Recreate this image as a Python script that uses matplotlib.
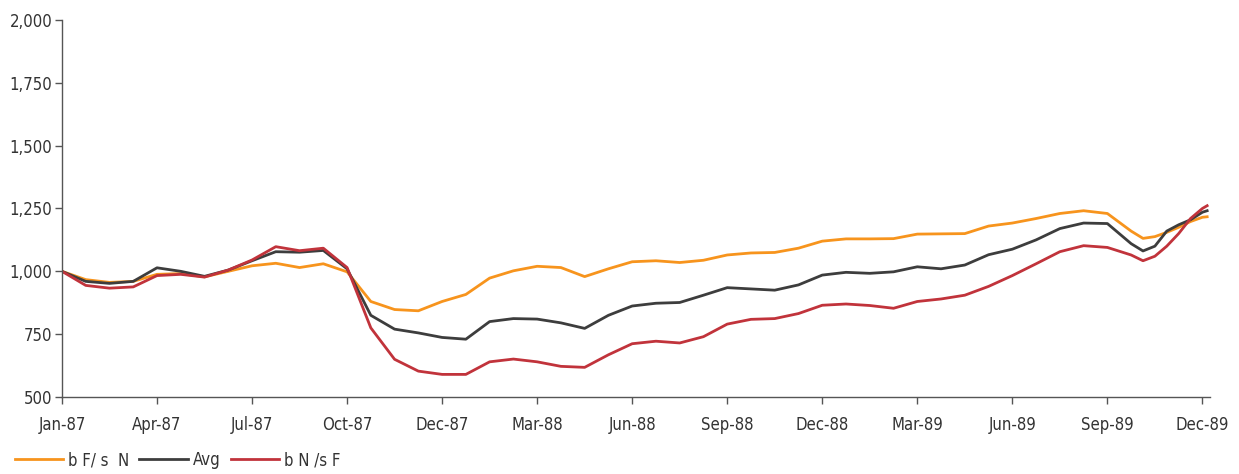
import matplotlib
matplotlib.use("Agg")
import matplotlib.pyplot as plt
from matplotlib.ticker import FuncFormatter

# positions in tick units (one unit = spacing between labelled ticks)
pos = [0, 0.25, 0.5, 0.75, 1.0, 1.25, 1.5, 1.75, 2.0, 2.25, 2.5, 2.75, 3.0,
       3.25, 3.5, 3.75, 4.0, 4.25, 4.5, 4.75, 5.0, 5.25, 5.5, 5.75, 6.0,
       6.25, 6.5, 6.75, 7.0, 7.25, 7.5, 7.75, 8.0, 8.25, 8.5, 8.75, 9.0,
       9.25, 9.5, 9.75, 10.0, 10.25, 10.5, 10.75, 11.0, 11.25, 11.375, 11.5,
       11.625, 11.75, 11.875, 12.0, 12.05]

orange = [1000, 967, 956, 960, 988, 991, 978, 1000, 1022, 1032, 1015, 1030, 998,
          880, 848, 843, 880, 908, 973, 1002, 1020, 1015, 979, 1010, 1038,
          1042, 1035, 1044, 1065, 1073, 1075, 1092, 1120, 1129, 1129, 1130, 1148,
          1149, 1150, 1180, 1192, 1210, 1230, 1241, 1230, 1160, 1131, 1138,
          1155, 1175, 1198, 1215, 1217]

avg = [1000, 960, 952, 960, 1014, 1000, 980, 1005, 1042, 1078, 1076, 1083, 1010,
       825, 770, 755, 737, 730, 800, 812, 810, 795, 773, 825, 862,
       873, 876, 905, 935, 930, 925, 946, 985, 996, 992, 998, 1018,
       1010, 1025, 1066, 1088, 1125, 1170, 1192, 1190, 1110, 1081, 1100,
       1160, 1185, 1205, 1235, 1241]

red = [1000, 944, 933, 938, 983, 988, 977, 1005, 1045, 1098, 1082, 1092, 1015,
       775, 650, 603, 590, 590, 640, 651, 640, 622, 618, 668, 712,
       722, 715, 740, 790, 809, 812, 832, 865, 870, 864, 853, 880,
       890, 905, 940, 983, 1030, 1078, 1102, 1095, 1065, 1042, 1060,
       1100, 1150, 1210, 1250, 1261]

tick_labels = ["Jan-87", "Apr-87", "Jul-87", "Oct-87", "Dec-87", "Mar-88", "Jun-88",
               "Sep-88", "Dec-88", "Mar-89", "Jun-89", "Sep-89", "Dec-89"]
series_names = ["b F/ s  N", "Avg", "b N /s F"]

plt.rcParams["font.family"] = ["DejaVu Sans"]
plt.rcParams["font.stretch"] = "condensed"

fig = plt.figure(figsize=(12.39, 4.74), dpi=100)
ax = fig.add_axes([0.050, 0.1624, 0.9266, 0.7956])

lw = 2.0
ax.plot(pos, orange, color="#F7941D", lw=lw, label=series_names[0], solid_joinstyle="round")
ax.plot(pos, avg, color="#3D3D3D", lw=lw, label=series_names[1], solid_joinstyle="round")
ax.plot(pos, red, color="#C1333B", lw=lw, label=series_names[2], solid_joinstyle="round")

ax.set_xlim(0, 12.08)
ax.set_ylim(500, 2000)
ax.set_xticks(range(len(tick_labels)))
ax.set_xticklabels(tick_labels)
ax.set_yticks([500, 750, 1000, 1250, 1500, 1750, 2000])
ax.yaxis.set_major_formatter(FuncFormatter(lambda v, p: f"{int(v):,}"))

for s in ["top", "right"]:
    ax.spines[s].set_visible(False)
for s in ["left", "bottom"]:
    ax.spines[s].set_color("#555555")
    ax.spines[s].set_linewidth(1.0)

ax.tick_params(axis="both", colors="#555555", labelcolor="#333333", labelsize=12, length=5, width=1.0)
ax.tick_params(axis="x", pad=9)
ax.tick_params(axis="y", pad=2)

fig.legend(loc="lower left", bbox_to_anchor=(0.012, 0.01), ncol=3, frameon=False,
           fontsize=12, handlelength=2.9, handletextpad=0.3, columnspacing=0.6,
           borderaxespad=0, borderpad=0, labelcolor="#333333")

fig.savefig("out.png", dpi=100)
